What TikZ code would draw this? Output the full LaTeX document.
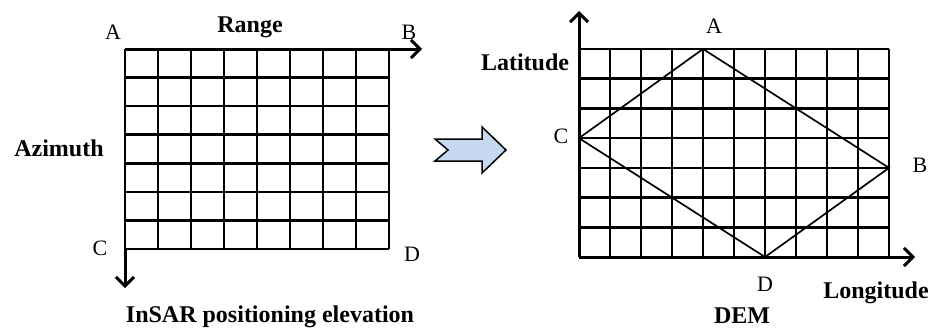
\documentclass[tikz,border=0pt]{standalone}
\usepackage{fontspec}
\setmainfont{Liberation Serif}
\usetikzlibrary{arrows.meta}
\definecolor{arrowblue}{RGB}{198,217,241}
\tikzset{
  gridline/.style={line width=2.6pt, black},
  axis/.style={line width=3pt, black, -{Straight Barb[length=9pt,width=18pt]}},
  diam/.style={line width=1.7pt, black},
  lab/.style={font=\fontsize{22}{22}\selectfont, anchor=base, inner sep=0pt},
  blab/.style={font=\fontsize{24}{24}\selectfont\bfseries, anchor=base, inner sep=0pt},
}
\begin{document}
\begin{tikzpicture}[x=1pt,y=-1pt]
\useasboundingbox (0,0) rectangle (933,327);
% ---------- left grid ----------
\foreach \i in {0,...,8} \draw[gridline] (125+33*\i,49) -- (125+33*\i,249);
\foreach \j in {0,...,7} \draw[gridline] (125,49+200/7*\j) -- (389,49+200/7*\j);
\coordinate (LA) at (125,49);
\coordinate (LBend) at (422,49);
\coordinate (LC) at (125,249);
\coordinate (LCend) at (125,288);
\draw[axis] (LA) -- (LBend);
\draw[axis] (LC) -- (LCend);
\node[blab] (range) at (250,32) {Range};
\node[lab] (la) at (113,39) {A};
\node[lab] (lb) at (409,39) {B};
\node[blab] (azi) at (59,156) {Azimuth};
\node[lab] (lc) at (100,255) {C};
\node[lab] (ld) at (412,261) {D};
\node[blab] (insar) at (270,322) {InSAR positioning elevation};
% ---------- block arrow ----------
\draw[line width=1.5pt, fill=arrowblue, line join=miter]
  (435,139) -- (482,139) -- (482,127) -- (506,150) -- (482,173) -- (482,161)
  -- (435,161) -- (448,150) -- cycle;
% ---------- right grid ----------
\foreach \i in {0,...,10} \draw[gridline] (579+31*\i,49) -- (579+31*\i,257);
\foreach \j in {0,...,7} \draw[gridline] (579,49+208/7*\j) -- (889,49+208/7*\j);
\coordinate (O) at (579,257);
\coordinate (Yend) at (579,11);
\coordinate (Xend) at (915,257);
\draw[axis] (O) -- (Yend);
\draw[axis] (O) -- (Xend);
\coordinate (RA) at (703,49);
\coordinate (RB) at (889,{49+208/7*4});
\coordinate (RC) at (579,{49+208/7*3});
\coordinate (RD) at (765,257);
\draw[diam] (RA) -- (RB) -- (RD) -- (RC) -- cycle;
\node[lab] (ra) at (714,33) {A};
\node[lab] (rc) at (561,143) {C};
\node[lab] (rb) at (920,172) {B};
\node[lab] (rd) at (765,291) {D};
\node[blab] (lat) at (525,70) {Latitude};
\node[blab] (lon) at (876,298) {Longitude};
\node[blab] (dem) at (742,323) {DEM};
\end{tikzpicture}
\end{document}
